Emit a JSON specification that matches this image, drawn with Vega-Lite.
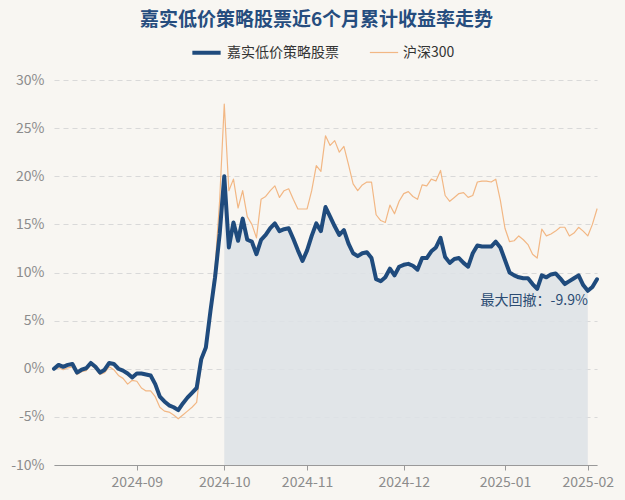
{
  "$schema": "https://vega.github.io/schema/vega-lite/v6.json",
  "width": 543,
  "height": 385,
  "autosize": {"type": "none"},
  "padding": {"left": 54, "top": 80, "right": 28, "bottom": 35},
  "background": "#f8f6f2",
  "config": {
    "view": {"stroke": null},
    "font": "Noto Sans CJK SC"
  },
  "title": {
    "text": "嘉实低价策略股票近6个月累计收益率走势",
    "fontSize": 19,
    "fontWeight": "bold",
    "color": "#264d7e",
    "anchor": "middle",
    "dx": -9,
    "offset": 6
  },
  "data": {
    "values": [
      {"date": "2024-08-07", "fund": 0.0, "hs300": 0.0},
      {"date": "2024-08-08", "fund": 0.4, "hs300": 0.1},
      {"date": "2024-08-09", "fund": 0.2, "hs300": -0.1},
      {"date": "2024-08-12", "fund": 0.4, "hs300": 0.1},
      {"date": "2024-08-13", "fund": 0.5, "hs300": 0.2},
      {"date": "2024-08-14", "fund": -0.4, "hs300": -0.6},
      {"date": "2024-08-15", "fund": -0.1, "hs300": -0.3},
      {"date": "2024-08-16", "fund": 0.05, "hs300": -0.2},
      {"date": "2024-08-19", "fund": 0.6, "hs300": 0.4},
      {"date": "2024-08-20", "fund": 0.2, "hs300": 0.0},
      {"date": "2024-08-21", "fund": -0.4, "hs300": -0.6},
      {"date": "2024-08-22", "fund": -0.1, "hs300": -0.4},
      {"date": "2024-08-23", "fund": 0.6, "hs300": 0.2},
      {"date": "2024-08-26", "fund": 0.5, "hs300": -0.1},
      {"date": "2024-08-27", "fund": 0.0, "hs300": -0.7},
      {"date": "2024-08-28", "fund": -0.2, "hs300": -1.0},
      {"date": "2024-08-29", "fund": -0.5, "hs300": -1.6},
      {"date": "2024-08-30", "fund": -0.9, "hs300": -1.2},
      {"date": "2024-09-02", "fund": -0.5, "hs300": -1.3},
      {"date": "2024-09-03", "fund": -0.5, "hs300": -2.0},
      {"date": "2024-09-04", "fund": -0.6, "hs300": -2.3},
      {"date": "2024-09-05", "fund": -0.7, "hs300": -2.3},
      {"date": "2024-09-06", "fund": -1.6, "hs300": -2.9},
      {"date": "2024-09-09", "fund": -2.9, "hs300": -4.0},
      {"date": "2024-09-10", "fund": -3.4, "hs300": -4.4},
      {"date": "2024-09-11", "fund": -3.8, "hs300": -4.5},
      {"date": "2024-09-12", "fund": -4.0, "hs300": -4.8},
      {"date": "2024-09-13", "fund": -4.3, "hs300": -5.2},
      {"date": "2024-09-18", "fund": -3.6, "hs300": -4.8},
      {"date": "2024-09-19", "fund": -3.0, "hs300": -4.4},
      {"date": "2024-09-20", "fund": -2.5, "hs300": -4.0},
      {"date": "2024-09-23", "fund": -2.0, "hs300": -3.5},
      {"date": "2024-09-24", "fund": 1.0, "hs300": 0.6},
      {"date": "2024-09-25", "fund": 2.2, "hs300": 2.0},
      {"date": "2024-09-26", "fund": 6.0, "hs300": 6.5},
      {"date": "2024-09-27", "fund": 9.5, "hs300": 10.5},
      {"date": "2024-09-30", "fund": 14.0, "hs300": 17.5},
      {"date": "2024-10-08", "fund": 20.0, "hs300": 27.5},
      {"date": "2024-10-09", "fund": 12.6, "hs300": 18.5},
      {"date": "2024-10-10", "fund": 15.2, "hs300": 19.7},
      {"date": "2024-10-11", "fund": 13.3, "hs300": 16.7},
      {"date": "2024-10-14", "fund": 15.6, "hs300": 18.5},
      {"date": "2024-10-15", "fund": 13.4, "hs300": 15.8},
      {"date": "2024-10-16", "fund": 13.2, "hs300": 15.0},
      {"date": "2024-10-17", "fund": 11.9, "hs300": 13.6},
      {"date": "2024-10-18", "fund": 13.4, "hs300": 17.6},
      {"date": "2024-10-21", "fund": 13.9, "hs300": 17.9},
      {"date": "2024-10-22", "fund": 14.6, "hs300": 18.5},
      {"date": "2024-10-23", "fund": 15.1, "hs300": 19.0},
      {"date": "2024-10-24", "fund": 14.3, "hs300": 17.8},
      {"date": "2024-10-25", "fund": 14.5, "hs300": 18.5},
      {"date": "2024-10-28", "fund": 14.6, "hs300": 18.7},
      {"date": "2024-10-29", "fund": 13.5, "hs300": 17.6},
      {"date": "2024-10-30", "fund": 12.3, "hs300": 16.6},
      {"date": "2024-10-31", "fund": 11.2, "hs300": 16.6},
      {"date": "2024-11-01", "fund": 12.3, "hs300": 16.6},
      {"date": "2024-11-04", "fund": 13.8, "hs300": 18.5},
      {"date": "2024-11-05", "fund": 15.1, "hs300": 21.1},
      {"date": "2024-11-06", "fund": 14.3, "hs300": 20.5},
      {"date": "2024-11-07", "fund": 16.8, "hs300": 24.2},
      {"date": "2024-11-08", "fund": 15.8, "hs300": 23.2},
      {"date": "2024-11-11", "fund": 14.8, "hs300": 23.7},
      {"date": "2024-11-12", "fund": 13.9, "hs300": 22.5},
      {"date": "2024-11-13", "fund": 14.4, "hs300": 23.1},
      {"date": "2024-11-14", "fund": 13.0, "hs300": 21.2},
      {"date": "2024-11-15", "fund": 12.0, "hs300": 19.2},
      {"date": "2024-11-18", "fund": 11.7, "hs300": 18.5},
      {"date": "2024-11-19", "fund": 12.0, "hs300": 19.1},
      {"date": "2024-11-20", "fund": 12.1, "hs300": 19.4},
      {"date": "2024-11-21", "fund": 11.5, "hs300": 19.4},
      {"date": "2024-11-22", "fund": 9.3, "hs300": 16.0},
      {"date": "2024-11-25", "fund": 9.1, "hs300": 15.4},
      {"date": "2024-11-26", "fund": 9.5, "hs300": 15.2},
      {"date": "2024-11-27", "fund": 10.4, "hs300": 17.0},
      {"date": "2024-11-28", "fund": 9.7, "hs300": 16.1},
      {"date": "2024-11-29", "fund": 10.6, "hs300": 17.4},
      {"date": "2024-12-02", "fund": 10.8, "hs300": 18.2},
      {"date": "2024-12-03", "fund": 10.9, "hs300": 18.4},
      {"date": "2024-12-04", "fund": 10.7, "hs300": 17.9},
      {"date": "2024-12-05", "fund": 10.3, "hs300": 17.6},
      {"date": "2024-12-06", "fund": 11.5, "hs300": 19.1},
      {"date": "2024-12-09", "fund": 11.5, "hs300": 19.0},
      {"date": "2024-12-10", "fund": 12.2, "hs300": 19.7},
      {"date": "2024-12-11", "fund": 12.6, "hs300": 19.5},
      {"date": "2024-12-12", "fund": 13.6, "hs300": 20.6},
      {"date": "2024-12-13", "fund": 11.6, "hs300": 18.0},
      {"date": "2024-12-16", "fund": 11.0, "hs300": 17.4},
      {"date": "2024-12-17", "fund": 11.4, "hs300": 17.8},
      {"date": "2024-12-18", "fund": 11.5, "hs300": 18.2},
      {"date": "2024-12-19", "fund": 11.0, "hs300": 18.3},
      {"date": "2024-12-20", "fund": 10.6, "hs300": 17.8},
      {"date": "2024-12-23", "fund": 12.0, "hs300": 18.0},
      {"date": "2024-12-24", "fund": 12.8, "hs300": 19.4},
      {"date": "2024-12-25", "fund": 12.7, "hs300": 19.5},
      {"date": "2024-12-26", "fund": 12.7, "hs300": 19.5},
      {"date": "2024-12-27", "fund": 12.7, "hs300": 19.4},
      {"date": "2024-12-30", "fund": 13.2, "hs300": 19.7},
      {"date": "2024-12-31", "fund": 12.6, "hs300": 17.5},
      {"date": "2025-01-02", "fund": 11.3, "hs300": 14.6},
      {"date": "2025-01-03", "fund": 10.0, "hs300": 13.2},
      {"date": "2025-01-06", "fund": 9.7, "hs300": 13.3},
      {"date": "2025-01-07", "fund": 9.5, "hs300": 13.8},
      {"date": "2025-01-08", "fund": 9.4, "hs300": 13.4},
      {"date": "2025-01-09", "fund": 9.4, "hs300": 12.9},
      {"date": "2025-01-10", "fund": 8.8, "hs300": 11.9},
      {"date": "2025-01-13", "fund": 8.3, "hs300": 11.5},
      {"date": "2025-01-14", "fund": 9.7, "hs300": 14.5},
      {"date": "2025-01-15", "fund": 9.5, "hs300": 13.8},
      {"date": "2025-01-16", "fund": 9.8, "hs300": 14.0},
      {"date": "2025-01-17", "fund": 9.9, "hs300": 14.3},
      {"date": "2025-01-20", "fund": 9.4, "hs300": 14.7},
      {"date": "2025-01-21", "fund": 8.8, "hs300": 14.7},
      {"date": "2025-01-22", "fund": 9.1, "hs300": 13.8},
      {"date": "2025-01-23", "fund": 9.4, "hs300": 14.1},
      {"date": "2025-01-24", "fund": 9.7, "hs300": 14.7},
      {"date": "2025-01-27", "fund": 8.7, "hs300": 14.3},
      {"date": "2025-02-05", "fund": 8.1, "hs300": 13.8},
      {"date": "2025-02-06", "fund": 8.5, "hs300": 15.0},
      {"date": "2025-02-07", "fund": 9.3, "hs300": 16.6}
    ]
  },
  "encoding": {
    "x": {
      "field": "date",
      "type": "ordinal",
      "scale": {"type": "point", "padding": 0},
      "axis": {
        "title": null,
        "values": ["2024-09-02", "2024-10-08", "2024-11-01", "2024-12-02", "2025-01-02", "2025-02-05"],
        "labelExpr": "slice(datum.value, 0, 7)",
        "labelAngle": 0,
        "labelFontSize": 14,
        "labelColor": "#8c8c8c",
        "labelPadding": 5,
        "tickColor": "#999999",
        "tickSize": 5,
        "domainColor": "#999999",
        "grid": false
      }
    }
  },
  "layer": [
    {
      "transform": [{"filter": "datum.date >= '2024-10-08' && datum.date <= '2025-02-05'"}],
      "mark": {"type": "area", "color": "#dde2e6", "opacity": 0.85},
      "encoding": {
        "y": {
          "field": "fund",
          "type": "quantitative",
          "scale": {"domain": [-10, 30], "nice": false},
          "axis": {
            "title": null,
            "values": [-10, -5, 0, 5, 10, 15, 20, 25, 30],
            "labelExpr": "datum.value + '%'",
            "labelFontSize": 14,
            "labelColor": "#8c8c8c",
            "labelPadding": 10,
            "ticks": false,
            "domain": false,
            "grid": true,
            "gridColor": "#d9d9d9",
            "gridDash": [5, 4],
            "gridWidth": 1
          }
        },
        "y2": {"datum": -10}
      }
    },
    {
      "mark": {"type": "rule", "color": "#c9c9c9", "strokeWidth": 2.5},
      "encoding": {"y": {"datum": 0}}
    },
    {
      "transform": [{"fold": ["hs300", "fund"], "as": ["series", "value"]}],
      "mark": {"type": "line", "strokeJoin": "round", "strokeCap": "round"},
      "encoding": {
        "y": {"field": "value", "type": "quantitative"},
        "color": {
          "field": "series",
          "type": "nominal",
          "scale": {"domain": ["fund", "hs300"], "range": ["#1f4b7d", "#f2b784"]},
          "legend": {
            "title": null,
            "orient": "none",
            "legendX": 136,
            "legendY": -44,
            "direction": "horizontal",
            "symbolType": "stroke",
            "symbolSize": 800,
            "labelFontSize": 14,
            "labelColor": "#333333",
            "columnPadding": 28,
            "labelExpr": "datum.label == 'fund' ? '嘉实低价策略股票' : '沪深300'"
          }
        },
        "strokeWidth": {
          "field": "series",
          "type": "nominal",
          "scale": {"domain": ["fund", "hs300"], "range": [4, 1.2]},
          "legend": {
            "title": null,
            "orient": "none",
            "legendX": 136,
            "legendY": -44,
            "direction": "horizontal",
            "symbolType": "stroke",
            "symbolSize": 800,
            "labelFontSize": 14,
            "labelColor": "#333333",
            "columnPadding": 28,
            "labelExpr": "datum.label == 'fund' ? '嘉实低价策略股票' : '沪深300'"
          }
        },
        "order": {"field": "series", "sort": "descending"}
      }
    },
    {
      "transform": [{"filter": "datum.date == '2025-02-05'"}],
      "mark": {"type": "text", "text": "最大回撤：-9.9%", "align": "right", "baseline": "middle", "dy": 10, "dx": 0, "fontSize": 14, "color": "#2b4c73"},
      "encoding": {
        "y": {"field": "fund", "type": "quantitative"}
      }
    }
  ]
}
